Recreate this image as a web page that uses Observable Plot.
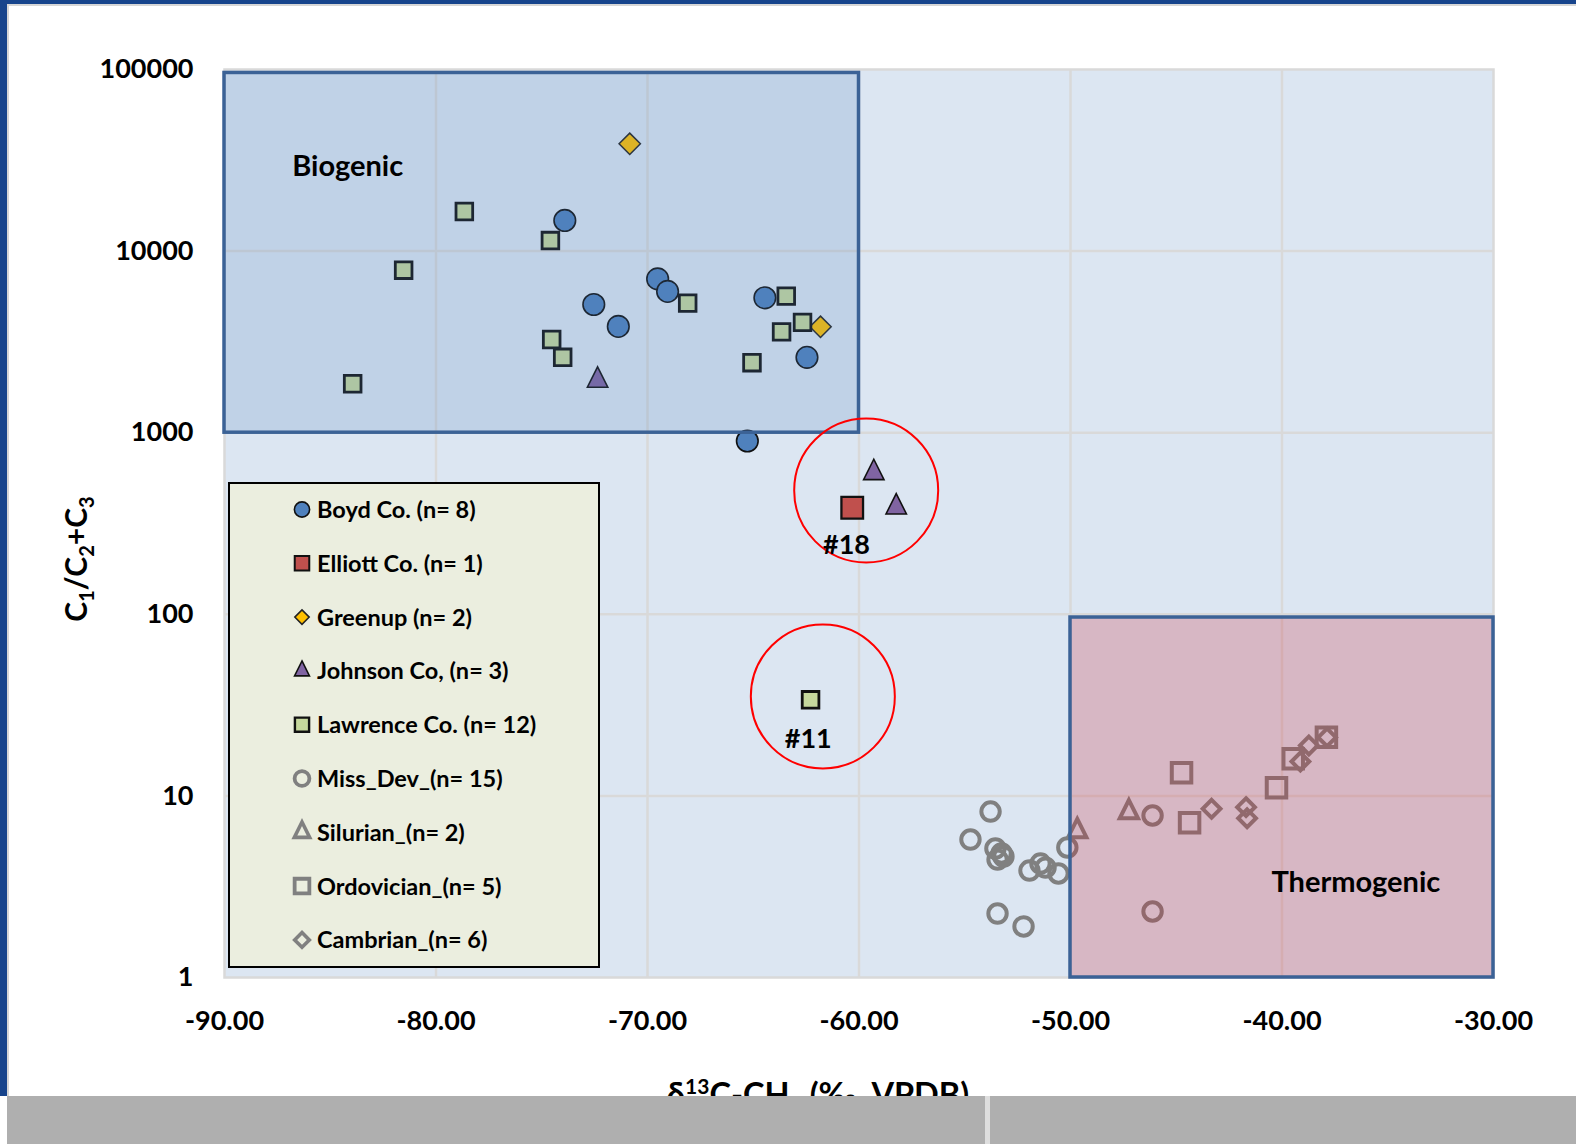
<!DOCTYPE html>
<html>
<head>
<meta charset="utf-8">
<script src="https://cdn.jsdelivr.net/npm/d3@7"></script>
<script src="https://cdn.jsdelivr.net/npm/@observablehq/plot@0.6"></script>
<style>
  html, body { margin: 0; padding: 0; background: #fff; }
  #page { position: relative; width: 1576px; height: 1144px; overflow: hidden; font-family: Lato, "Open Sans", sans-serif; }
  #chart { position: absolute; left: 0; top: 0; }
  #legend { position: absolute; left: 228px; top: 482px; width: 368px; height: 482px; border: 2px solid #000; background: #ebeedf; }
  .bar { position: absolute; }
</style>
</head>
<body>
<div id="page">
  <div id="chart"></div>
  <div id="legend"></div>
  <div class="bar" style="left:0;top:0;width:1576px;height:4px;background:#17448c"></div>
  <div class="bar" style="left:7px;top:4px;width:1569px;height:2px;background:#d6d6d6"></div>
  <div class="bar" style="left:0;top:0;width:7px;height:1096px;background:#17448c"></div>
  <div class="bar" style="left:7px;top:6px;width:2px;height:1090px;background:#d6d6d6"></div>
  <div class="bar" style="left:7px;top:1096px;width:1569px;height:48px;background:#afafaf"></div>
  <div class="bar" style="left:985px;top:1096px;width:5px;height:48px;background:#dedede"></div>
</div>
<script>
// ---- Series: δ13C-CH4 (x) and C1/(C2+C3) (y) ----
const seriesNames = [
  "Boyd Co. (n= 8)", "Elliott Co. (n= 1)", "Greenup (n= 2)", "Johnson Co, (n= 3)",
  "Lawrence Co. (n= 12)", "Miss_Dev_(n= 15)", "Silurian_(n= 2)", "Ordovician_(n= 5)", "Cambrian_(n= 6)"
];

const boydX = [-73.91, -72.54, -71.38, -69.52, -69.05, -64.45, -62.46, -65.28];
const boydY = [14750, 5080, 3850, 7030, 6000, 5530, 2600, 900];

const elliottX = [-60.32];
const elliottY = [386];

const greenupX = [-70.84, -61.82];
const greenupY = [39000, 3830];

const johnsonX = [-72.36, -59.30, -58.24];
const johnsonY = [1940, 601, 389];

const lawrenceX = [-78.66, -81.53, -74.59, -83.94, -74.53, -74.01, -68.10, -63.44, -63.66, -62.67, -65.06, -62.29];
const lawrenceY = [16520, 7850, 11430, 1860, 3260, 2600, 5170, 5650, 3590, 4050, 2430, 33.8];

const missDevX = [-53.78, -54.73, -53.55, -53.26, -53.45, -53.17, -51.94, -51.42, -51.18, -50.57, -50.15, -53.45, -52.22, -46.12, -46.12];
const missDevY = [8.2, 5.75, 5.13, 4.82, 4.46, 4.64, 3.88, 4.24, 4.03, 3.74, 5.2, 2.25, 1.91, 7.8, 2.31];

const silurianX = [-47.24, -49.68];
const silurianY = [8.13, 6.40];

const ordovicianX = [-44.75, -44.37, -40.26, -39.47, -37.90];
const ordovicianY = [13.4, 7.11, 11.08, 16.0, 21.05];

const cambrianX = [-43.33, -41.70, -41.65, -39.13, -38.73, -37.87];
const cambrianY = [8.49, 8.67, 7.54, 15.47, 18.96, 21.0];

// ---- Axes ----
const xTicks = [-90, -80, -70, -60, -50, -40, -30];
const yTicks = [1, 10, 100, 1000, 10000, 100000];

// ---- Genetic fields ----
const zoneNames = ["Biogenic", "Thermogenic"];
const zoneX1 = [-90, -50];
const zoneX2 = [-60, -30];
const zoneY1 = [1000, 1];
const zoneY2 = [95700, 96];
const zoneLabelX = [-86.8, -40.5];
const zoneLabelY = [29240, 3.31];

// ---- Highlighted samples ----
const calloutLabels = ["#18", "#11"];
const calloutX = [-59.66, -61.71];
const calloutY = [481, 35.3];
const calloutLabelX = [-60.59, -62.40];
const calloutLabelY = [239, 20.4];

// Triangle with equal width and height, centred on its centroid
const tri = {
  draw(context, size) {
    const r = Math.sqrt(size / Math.PI);
    const h = 2.4 * r, w = 2.4 * r;
    context.moveTo(0, -2 * h / 3);
    context.lineTo(w / 2, h / 3);
    context.lineTo(-w / 2, h / 3);
    context.closePath();
  }
};

const seriesStyles = [
  {symbol: d3.symbolCircle,   fill: "#4f81bd", stroke: "#111", sw: 1.6, r: 10.8, lr: 7.6, lsw: 1.6},
  {symbol: d3.symbolSquare,   fill: "#c0504d", stroke: "#111", sw: 2.3, r: 12.2, lr: 8.2, lsw: 2},
  {symbol: d3.symbolDiamond2, fill: "#ffc000", stroke: "#222", sw: 1.5, r: 9.6,  lr: 6.5, lsw: 1.5},
  {symbol: tri,               fill: "#8064a2", stroke: "#111", sw: 1.6, r: 8.5,  lr: 6.2, lsw: 1.6},
  {symbol: d3.symbolSquare,   fill: "#c6d89d", stroke: "#111", sw: 2.8, r: 9.4,  lr: 8.0, lsw: 2.4},
  {symbol: d3.symbolCircle,   fill: "none",    stroke: "#808080", sw: 4, r: 9.2,  lr: 7.4, lsw: 3.8},
  {symbol: tri,               fill: "none",    stroke: "#808080", sw: 4, r: 7.6,  lr: 6.4, lsw: 3.6},
  {symbol: d3.symbolSquare,   fill: "none",    stroke: "#808080", sw: 4, r: 11.0, lr: 8.3, lsw: 3.8},
  {symbol: d3.symbolDiamond2, fill: "none",    stroke: "#808080", sw: 4, r: 8.0,  lr: 6.6, lsw: 3.6}
];

const seriesX = [boydX, elliottX, greenupX, johnsonX, lawrenceX, missDevX, silurianX, ordovicianX, cambrianX];
const seriesY = [boydY, elliottY, greenupY, johnsonY, lawrenceY, missDevY, silurianY, ordovicianY, cambrianY];

const pts = (xs, ys) => xs.map((x, i) => ({x, y: ys[i]}));

const dotMarks = seriesX.map((xs, k) => {
  const s = seriesStyles[k];
  return Plot.dot(pts(xs, seriesY[k]), {
    x: "x", y: "y", r: s.r, symbol: s.symbol,
    fill: s.fill, stroke: s.stroke, strokeWidth: s.sw
  });
});

const zones = zoneNames.map((name, i) => ({
  name, x1: zoneX1[i], x2: zoneX2[i], y1: zoneY1[i], y2: zoneY2[i], lx: zoneLabelX[i], ly: zoneLabelY[i]
}));
const zoneFills = ["rgba(79,129,189,0.2)", "rgba(199,30,46,0.235)"];

const callouts = calloutLabels.map((label, i) => ({
  label, x: calloutX[i], y: calloutY[i], lx: calloutLabelX[i], ly: calloutLabelY[i]
}));

const font = "Lato, 'Open Sans', sans-serif";

const chart = Plot.plot({
  width: 1576,
  height: 1144,
  marginLeft: 224,
  marginRight: 83,
  marginTop: 69,
  marginBottom: 167,
  style: {fontFamily: font, color: "#000", background: "#fff"},
  x: {domain: [-90, -30]},
  y: {type: "log", domain: [1, 100000]},
  marks: [
    Plot.frame({fill: "#dce6f2", stroke: "none"}),
    Plot.gridX(xTicks.slice(1, -1), {stroke: "#d9d9d9", strokeOpacity: 1, strokeWidth: 2.5}),
    Plot.gridY(yTicks.slice(1, -1), {stroke: "#d9d9d9", strokeOpacity: 1, strokeWidth: 2.5}),
    Plot.frame({stroke: "#d9d9d9", strokeWidth: 2.5}),
    ...dotMarks,
    ...zones.map((z, i) => Plot.rect([z], {
      x1: "x1", x2: "x2", y1: "y1", y2: "y2",
      fill: zoneFills[i], stroke: "#3b6296", strokeWidth: 3.5
    })),
    Plot.text(zones, {x: "lx", y: "ly", text: "name", textAnchor: "start",
      fontSize: 29, fontWeight: 700, fill: "#000"}),
    Plot.dot(callouts, {x: "x", y: "y", r: 72, fill: "none", stroke: "#f00", strokeWidth: 2}),
    Plot.text(callouts, {x: "lx", y: "ly", text: "label", fontSize: 27, fontWeight: 700, fill: "#000"}),
    Plot.axisX({ticks: xTicks, tickFormat: d => d.toFixed(2), tickSize: 0, tickPadding: 33,
      fontSize: 27, fontWeight: 700, label: null}),
    Plot.axisY({ticks: yTicks, tickFormat: d => String(d), tickSize: 0, tickPadding: 31,
      fontSize: 27, fontWeight: 700, label: null})
  ]
});

document.getElementById("chart").appendChild(chart);

// Axis titles with sub- and superscripts
const svg = d3.select(chart);
const yTitle = svg.append("text")
  .attr("transform", "translate(87,559) rotate(-90)")
  .attr("text-anchor", "middle")
  .attr("font-family", font).attr("font-weight", 700).attr("font-size", 30).attr("fill", "#000");
[["C", 0], ["1", 1], ["/C", 0], ["2", 1], ["+C", 0], ["3", 1]].forEach(([t, sub], i, arr) => {
  const prevSub = i > 0 && arr[i - 1][1];
  const dy = sub ? 7 : (prevSub ? -7 : 0);
  yTitle.append("tspan").attr("dy", dy).attr("font-size", sub ? 20 : 30).text(t);
});

const xTitle = svg.append("text")
  .attr("x", 818).attr("y", 1106)
  .attr("text-anchor", "middle")
  .attr("font-family", font).attr("font-weight", 700).attr("font-size", 32.5).attr("fill", "#000");
xTitle.append("tspan").text("δ");
xTitle.append("tspan").attr("dy", -12).attr("font-size", 21).text("13");
xTitle.append("tspan").attr("dy", 12).text("C-CH");
xTitle.append("tspan").attr("dy", 7).attr("font-size", 21).text("4");
xTitle.append("tspan").attr("dy", -7).text(" (‰, VPDB)");

// Legend
const legendSvg = d3.select("#legend").append("svg")
  .attr("width", 368).attr("height", 482)
  .style("display", "block");
seriesNames.forEach((name, i) => {
  const s = seriesStyles[i];
  const cy = 25.5 + i * 53.8;
  legendSvg.append("path")
    .attr("transform", `translate(72,${cy})`)
    .attr("d", d3.symbol(s.symbol, Math.PI * s.lr * s.lr)())
    .attr("fill", s.fill).attr("stroke", s.stroke)
    .attr("stroke-width", s.lsw);
  legendSvg.append("text")
    .attr("x", 87).attr("y", cy).attr("dy", "0.36em")
    .attr("font-family", font).attr("font-weight", 700).attr("font-size", 23.5)
    .attr("fill", "#000")
    .text(name);
});
</script>
</body>
</html>
